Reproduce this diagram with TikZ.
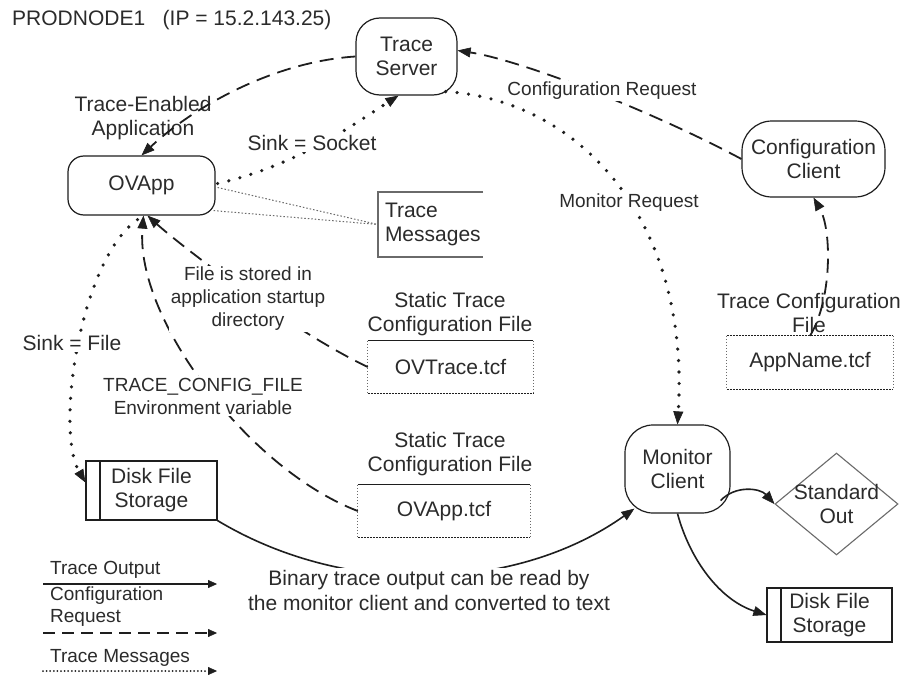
\documentclass[tikz,border=0pt]{standalone}
\usepackage{fontspec}
\setmainfont{Liberation Sans}
\usetikzlibrary{arrows.meta,shapes.geometric,calc}
\definecolor{ink}{HTML}{1E1E1E}
\definecolor{txt}{HTML}{2B2B2B}
\definecolor{soft}{HTML}{6A6A6A}
\begin{document}
\begin{tikzpicture}[x=1pt,y=-1pt,
  big/.style={font=\fontsize{21}{24}\selectfont, text=txt},
  small/.style={font=\fontsize{19}{23}\selectfont, text=txt},
  procbox/.style={draw=ink, line width=1.2pt, rounded corners=#1, align=center, inner sep=0pt, big},
  diskbox/.style={draw=ink, line width=1.2pt, align=center, inner sep=0pt, big,
     path picture={\draw[ink, line width=1.2pt] ([xshift=14pt]path picture bounding box.north west) -- ([xshift=14pt]path picture bounding box.south west);}},
  filearea/.style={inner sep=0pt, big},
  filetop/.style={draw=ink, line width=1.2pt},
  fileside/.style={draw=soft, line width=0.9pt, dash pattern=on 1.2pt off 1.8pt},
  filebottom/.style={draw=ink, line width=1.2pt, dash pattern=on 2pt off 1pt},
  title/.style={big, align=center, inner sep=0pt},
  gaplabel/.style={fill=white, inner sep=1.5pt, align=center},
  tip/.style={-{Triangle[length=13pt,width=10pt,line width=0.6pt]}},
  smalltip/.style={-{Triangle[length=9pt,width=8pt,line width=0.4pt]}},
  cfgflow/.style={draw=ink, line width=1.8pt, dash pattern=on 14pt off 8pt, tip},
  msgflow/.style={draw=ink, line width=3.6pt, line cap=round, dash pattern=on 0pt off 11.5pt, tip},
  outflow/.style={draw=ink, line width=1.6pt, tip},
  msglink/.style={draw=soft, line width=1pt, dash pattern=on 1.5pt off 2pt},
  legsolid/.style={draw=ink, line width=1.5pt, smalltip},
  legdash/.style={draw=ink, line width=1.6pt, dash pattern=on 12pt off 7pt, smalltip},
  legdot/.style={draw=ink, line width=2pt, line cap=round, dash pattern=on 0pt off 3.6pt, smalltip},
]
\fill[white] (0,0) rectangle (910,677);
\useasboundingbox (0,0) rectangle (910,677);

% ---- nodes ----
\node[procbox=24pt, minimum width=101pt, minimum height=77pt] (ts) at (406.5,56.5) {Trace\\Server};
\node[procbox=16pt, minimum width=147pt, minimum height=59pt] (ovapp) at (141.5,185.5) {OVApp};
\node[procbox=30pt, minimum width=143pt, minimum height=76pt] (cc) at (813.5,159) {Configuration\\Client};
\node[procbox=28pt, minimum width=105pt, minimum height=88pt] (mc) at (677.5,469) {Monitor\\Client};

\node[diamond, draw=soft, line width=1.1pt, minimum width=123pt, minimum height=102pt, inner sep=0pt] (so) at (836.5,504) {};
\node[big, align=center, inner sep=0pt] (sotext) at (so.center) {Standard\\Out};

\node[diskbox, minimum width=131pt, minimum height=59pt] (dfa) at (151.5,490.5) {Disk File\\Storage};
\node[diskbox, minimum width=125pt, minimum height=54pt] (dfb) at (829.5,615) {Disk File\\Storage};

\node[minimum width=105pt, minimum height=65pt, inner sep=0pt] (tmbox) at (430.5,224.5) {};
\draw[draw=soft, line width=1.5pt] (tmbox.north east) -- (tmbox.north west) -- (tmbox.south west) -- (tmbox.south east);
\node[big, align=left, inner sep=0pt, anchor=west] (tmtext) at ($(tmbox.west)+(7,0)$) {Trace\\Messages};

\node[filearea, minimum width=165pt, minimum height=52pt] (ovtrace) at (450.5,367) {OVTrace.tcf};
\draw[filetop] (ovtrace.north west) -- (ovtrace.north east);
\draw[fileside] (ovtrace.north west) -- (ovtrace.south west) (ovtrace.north east) -- (ovtrace.south east);
\draw[filebottom] (ovtrace.south west) -- (ovtrace.south east);

\node[filearea, minimum width=172pt, minimum height=52pt] (ovapptcf) at (444,511) {OVApp.tcf};
\draw[filetop] (ovapptcf.north west) -- (ovapptcf.north east);
\draw[fileside] (ovapptcf.north west) -- (ovapptcf.south west) (ovapptcf.north east) -- (ovapptcf.south east);
\draw[filebottom] (ovapptcf.south west) -- (ovapptcf.south east);

\node[filearea, minimum width=166pt, minimum height=53pt] (appname) at (810,362.5) {AppName.tcf};
\draw[filebottom] (appname.north west) -- (appname.north east);
\draw[fileside] (appname.north west) -- (appname.south west) (appname.north east) -- (appname.south east);
\draw[filebottom] (appname.south west) -- (appname.south east);

\node[title] (ovtracetitle) at (450,314.5) {Static Trace\\Configuration File};
\node[title] (ovapptitle) at (450,454.5) {Static Trace\\Configuration File};
\node[title] (appnametitle) at (809,313) {Trace Configuration\\File};

\node[big, anchor=base west, inner sep=0pt] (prod) at (12,26) {PRODNODE1\ \ \ (IP = 15.2.143.25)};
\node[big, align=center, inner sep=0pt] (telbl) at (143,118.5) {Trace-Enabled\\Application};

% ---- connectors ----
\draw[cfgflow] (ts.west) .. controls (270,62) and (190,110) .. (ovapp.north);
\draw[cfgflow] (cc.west) .. controls (650,110) and (520,60) .. ($(ts.east)+(0,-6)$);
\draw[msgflow] ($(ovapp.east)+(2,-2)$) .. controls (300,165) and (360,120) .. ($(ts.south)+(-8,0)$);
\draw[msgflow] ($(ts.south east)+(-12,-4)$) .. controls (580,100) and (690,220) .. (mc.north);
\draw[msglink] ($(ovapp.east)+(2,2)$) -- (tmbox.west);
\draw[msglink] ($(ovapp.south east)+(-2,-5)$) -- (tmbox.west);
\draw[cfgflow] (ovtrace.west) .. controls (290,330) and (180,245) .. ($(ovapp.south)+(6,0)$);
\draw[cfgflow] (ovapptcf.west) .. controls (250,470) and (135,320) .. ($(ovapp.south)+(2,0)$);
\draw[msgflow] ($(ovapp.south)+(-4,4)$) .. controls (80,260) and (55,430) .. ($(dfa.west)+(0,-8)$);
\draw[outflow] (dfa.south east) .. controls (350,600) and (520,590) .. ($(mc.south west)+(10,-5)$);
\draw[outflow] ($(mc.south east)+(-10,-13)$) .. controls (735,485) and (760,488) .. (so.west);
\draw[outflow] (mc.south) .. controls (690,560) and (720,600) .. (dfb.west);
\draw[cfgflow] (appname.north) .. controls (832,300) and (832,230) .. (cc.south);

% ---- labels on connectors ----
\node[small, gaplabel] (crlbl) at (602,91) {Configuration Request};
\node[big, gaplabel] (sslbl) at (312,143) {Sink = Socket};
\node[small, gaplabel] (mrlbl) at (629,203) {Monitor Request};
\node[small, gaplabel] (fislbl) at (248,299) {File is stored in\\application startup\\directory};
\node[big, gaplabel] (sflbl) at (72,343) {Sink = File};
\node[small, gaplabel] (tcflbl) at (203,396) {TRACE\_CONFIG\_FILE\\Environment variable};
\node[big, gaplabel, font=\fontsize{21}{25}\selectfont] (binlbl) at (429,590) {Binary trace output can be read by\\the monitor client and converted to text};

% ---- legend ----
\coordinate (l1a) at (43,584); \coordinate (l1b) at (217,584);
\coordinate (l2a) at (43,633); \coordinate (l2b) at (217,633);
\coordinate (l3a) at (43,671); \coordinate (l3b) at (217,671);
\node[small, anchor=base west, inner sep=0pt] (lg1) at (50,574) {Trace Output};
\draw[legsolid] (l1a) -- (l1b);
\node[small, font=\fontsize{19}{22}\selectfont, align=left, anchor=west, inner sep=0pt] (lg2) at (50,607) {Configuration\\Request};
\draw[legdash] (l2a) -- (l2b);
\node[small, anchor=base west, inner sep=0pt] (lg3) at (50,662) {Trace Messages};
\draw[legdot] (l3a) -- (l3b);
\end{tikzpicture}
\end{document}
